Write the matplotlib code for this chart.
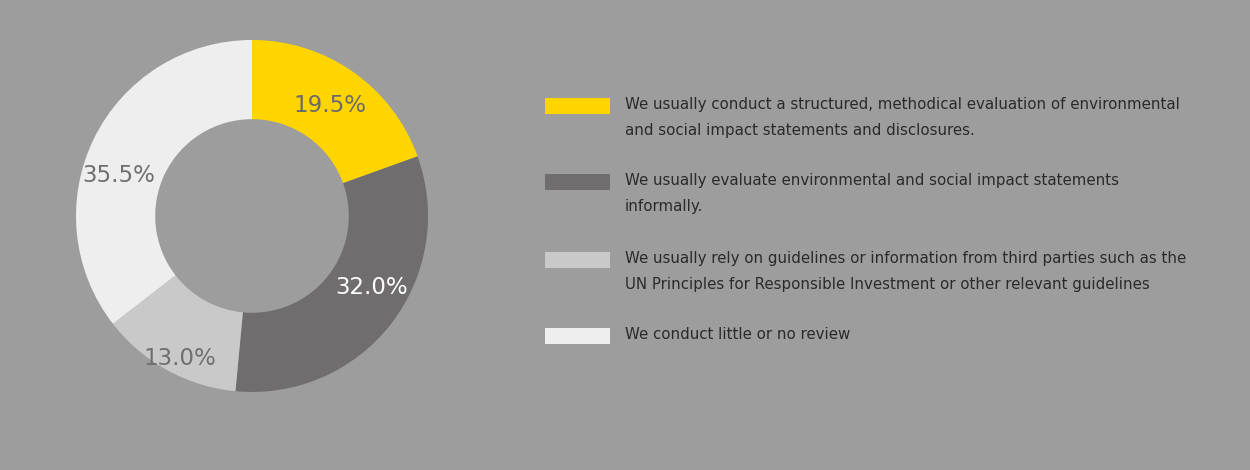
import matplotlib
matplotlib.use('Agg')
import matplotlib.pyplot as plt
from matplotlib.patches import Rectangle
import numpy as np

# Survey shares, drawn clockwise from 12 o'clock
shares = [19.5, 32.0, 13.0, 35.5]
labels = [
    "We usually conduct a structured, methodical evaluation of environmental\nand social impact statements and disclosures.",
    "We usually evaluate environmental and social impact statements\ninformally.",
    "We usually rely on guidelines or information from third parties such as the\nUN Principles for Responsible Investment or other relevant guidelines",
    "We conduct little or no review",
]
colors = ["#ffd500", "#6f6d6d", "#c9c9c9", "#eeeeee"]
pct_colors = ["#6a6a6a", "#ffffff", "#6f6f6f", "#6f6f6f"]
# nudges for the percentage labels (angle in degrees, radius)
pct_nudge = [(0, 0.77), (7, 0.79), (2, 0.91), (9, 0.79)]

bg = "#9d9d9d"

fig = plt.figure(figsize=(12.5, 4.7), dpi=100, facecolor=bg)
ax = fig.add_axes([0.0608, 0.166, 0.2816, 0.749])
ax.set_facecolor(bg)

wedges, _ = ax.pie(shares, colors=colors, startangle=90, counterclock=False,
                   radius=1.0, wedgeprops=dict(width=0.45, linewidth=0))
ax.set_xlim(-1, 1)
ax.set_ylim(-1, 1)
ax.set_aspect('equal')
ax.axis('off')

for w, val, c, (da, r) in zip(wedges, shares, pct_colors, pct_nudge):
    ang = np.deg2rad((w.theta1 + w.theta2) / 2 + da)
    ax.text(r * np.cos(ang), r * np.sin(ang), f"{val:.1f}%", color=c,
            fontsize=16.5, ha='center', va='center', family='DejaVu Sans')

# legend drawn by hand on the right
W, H = 1250, 470
rows_y = [106, 182, 260, 336]
for y, lab, col in zip(rows_y, labels, colors):
    fig.patches.append(Rectangle((545 / W, 1 - (y + 8) / H), 65 / W, 16 / H,
                                 transform=fig.transFigure, facecolor=col,
                                 edgecolor='none'))
    fig.text(625 / W, 1 - (y - 9) / H, lab, ha='left', va='top',
             fontsize=10.8, color='#2a2a2a', linespacing=1.95,
             family=['DejaVu Sans Condensed', 'DejaVu Sans'])

fig.savefig("out.png", dpi=100, facecolor=bg)
